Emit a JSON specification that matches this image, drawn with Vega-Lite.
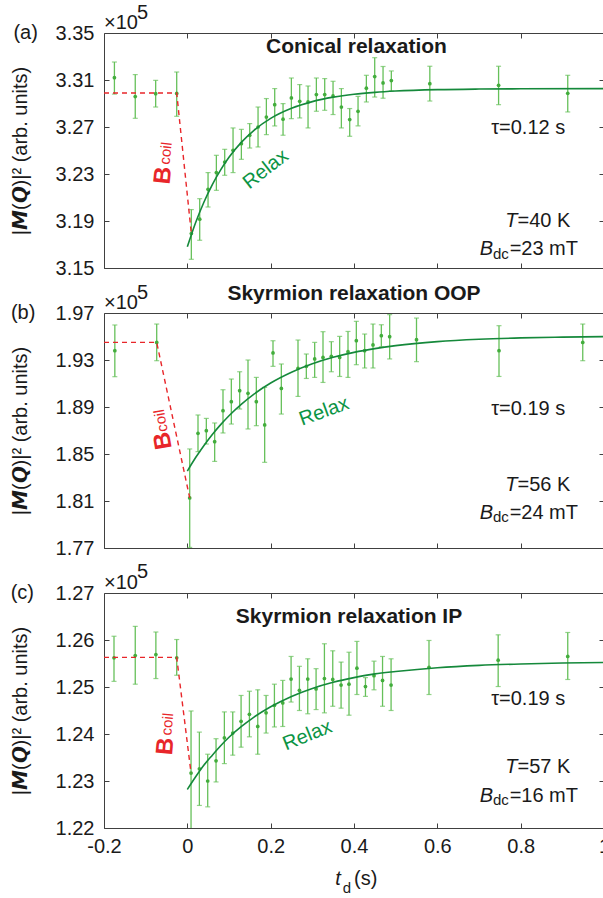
{
"$schema": "https://vega.github.io/schema/vega-lite/v6.json",
"padding": {"left": 9, "top": 2, "right": 0, "bottom": 0},
"bounds": "flush",
"spacing": 45,
"config": {"font": "Liberation Sans", "view": {"stroke": "#404040", "strokeWidth": 1}, "text": {"color": "#1a1a1a", "font": "Liberation Sans"}},
"datasets": {
"aPts": [
{"t":-0.175,"v":3.312,"lo":3.298,"hi":3.3253},{"t":-0.125,"v":3.2959,"lo":3.2774,"hi":3.3146},{"t":-0.076,"v":3.2984,"lo":3.287,"hi":3.3097},{"t":-0.0255,"v":3.2986,"lo":3.2791,"hi":3.3168},
{"t":0.0096,"v":3.1793,"lo":3.1574,"hi":3.1997},{"t":0.0297,"v":3.1915,"lo":3.1736,"hi":3.209},{"t":0.0497,"v":3.217,"lo":3.2019,"hi":3.2312},{"t":0.0697,"v":3.2312,"lo":3.2161,"hi":3.2459},
{"t":0.0897,"v":3.2402,"lo":3.2289,"hi":3.251},{"t":0.1097,"v":3.2502,"lo":3.2312,"hi":3.2692},{"t":0.1297,"v":3.2558,"lo":3.2425,"hi":3.268},{"t":0.1497,"v":3.2629,"lo":3.2521,"hi":3.2729},
{"t":0.1697,"v":3.27,"lo":3.253,"hi":3.287},{"t":0.1897,"v":3.2785,"lo":3.2635,"hi":3.2942},{"t":0.2097,"v":3.289,"lo":3.2709,"hi":3.3027},{"t":0.2297,"v":3.2766,"lo":3.263,"hi":3.2899},
{"t":0.2497,"v":3.2947,"lo":3.2771,"hi":3.3117},{"t":0.2697,"v":3.2919,"lo":3.2777,"hi":3.3061},{"t":0.2897,"v":3.2913,"lo":3.2692,"hi":3.3049},{"t":0.3097,"v":3.2976,"lo":3.2834,"hi":3.3117},
{"t":0.3297,"v":3.2976,"lo":3.2842,"hi":3.3112},{"t":0.3497,"v":3.2964,"lo":3.2806,"hi":3.3089},{"t":0.3697,"v":3.287,"lo":3.2692,"hi":3.3027},{"t":0.3897,"v":3.2763,"lo":3.2621,"hi":3.2857},
{"t":0.4097,"v":3.2834,"lo":3.271,"hi":3.296},{"t":0.4297,"v":3.303,"lo":3.2913,"hi":3.314},{"t":0.4497,"v":3.3129,"lo":3.2955,"hi":3.329},{"t":0.4697,"v":3.3075,"lo":3.2945,"hi":3.3215},
{"t":0.4896,"v":3.3095,"lo":3.3006,"hi":3.3177},{"t":0.582,"v":3.3069,"lo":3.2921,"hi":3.3217},{"t":0.747,"v":3.3055,"lo":3.289,"hi":3.3217},{"t":0.913,"v":3.2987,"lo":3.2828,"hi":3.314}],
"aFit": [
{"t":0,"v":3.168},{"t":0.02,"v":3.1887},{"t":0.04,"v":3.2062},{"t":0.06,"v":3.221},{"t":0.08,"v":3.2335},{"t":0.1,"v":3.2442},{"t":0.13,"v":3.2571},{"t":0.16,"v":3.2672},{"t":0.2,"v":3.2773},{"t":0.25,"v":3.2859},{"t":0.3,"v":3.2916},{"t":0.35,"v":3.2954},{"t":0.4,"v":3.2979},{"t":0.45,"v":3.2995},{"t":0.5,"v":3.3006},{"t":0.6,"v":3.3018},{"t":0.7,"v":3.3023},{"t":0.8,"v":3.3025},{"t":1.0,"v":3.3027}],
"aCoil": [{"t":-0.2,"v":3.299},{"t":-0.0255,"v":3.299},{"t":0.0096,"v":3.1793}],
"bPts": [
{"t":-0.174,"v":1.9379,"lo":1.9158,"hi":1.9598},{"t":-0.0735,"v":1.945,"lo":1.9294,"hi":1.9606},{"t":0.0057,"v":1.8126,"lo":1.7705,"hi":1.8543},{"t":0.0256,"v":1.8676,"lo":1.852,"hi":1.8832},
{"t":0.0456,"v":1.8698,"lo":1.8585,"hi":1.8803},{"t":0.0656,"v":1.8605,"lo":1.8437,"hi":1.8764},{"t":0.0856,"v":1.8869,"lo":1.8679,"hi":1.9047},{"t":0.1056,"v":1.8945,"lo":1.8755,"hi":1.9138},
{"t":0.1256,"v":1.9039,"lo":1.8883,"hi":1.92},{"t":0.1456,"v":1.9016,"lo":1.8713,"hi":1.93},{"t":0.1656,"v":1.8945,"lo":1.8741,"hi":1.9152},{"t":0.1856,"v":1.8747,"lo":1.8429,"hi":1.9067},
{"t":0.2056,"v":1.936,"lo":1.9246,"hi":1.9464},{"t":0.2256,"v":1.9058,"lo":1.884,"hi":1.9266},{"t":0.2656,"v":1.9229,"lo":1.899,"hi":1.947},{"t":0.2856,"v":1.9246,"lo":1.9143,"hi":1.9351},
{"t":0.3056,"v":1.9309,"lo":1.9152,"hi":1.945},{"t":0.3256,"v":1.9322,"lo":1.9109,"hi":1.9541},{"t":0.3456,"v":1.9331,"lo":1.92,"hi":1.9456},{"t":0.3656,"v":1.9322,"lo":1.916,"hi":1.9501},
{"t":0.3856,"v":1.9371,"lo":1.9152,"hi":1.9543},{"t":0.4056,"v":1.9464,"lo":1.926,"hi":1.9629},{"t":0.4256,"v":1.9379,"lo":1.9232,"hi":1.9521},{"t":0.4456,"v":1.9428,"lo":1.9232,"hi":1.9606},
{"t":0.4656,"v":1.9507,"lo":1.9413,"hi":1.96},{"t":0.4856,"v":1.9498,"lo":1.9309,"hi":1.9686},{"t":0.55,"v":1.9473,"lo":1.9286,"hi":1.9657},{"t":0.748,"v":1.9379,"lo":1.916,"hi":1.9592},{"t":0.949,"v":1.945,"lo":1.9294,"hi":1.9606}],
"bFit": [
{"t":0,"v":1.8355},{"t":0.02,"v":1.847},{"t":0.04,"v":1.8573},{"t":0.06,"v":1.8666},{"t":0.08,"v":1.875},{"t":0.1,"v":1.8826},{"t":0.13,"v":1.8925},{"t":0.16,"v":1.901},{"t":0.2,"v":1.9104},{"t":0.25,"v":1.9196},{"t":0.3,"v":1.9268},{"t":0.35,"v":1.9323},{"t":0.4,"v":1.9365},{"t":0.45,"v":1.9397},{"t":0.5,"v":1.9422},{"t":0.6,"v":1.9456},{"t":0.7,"v":1.9476},{"t":0.8,"v":1.9488},{"t":0.9,"v":1.9495},{"t":1.0,"v":1.9499}],
"bCoil": [{"t":-0.2,"v":1.945},{"t":-0.0735,"v":1.945},{"t":0.0057,"v":1.8126}],
"cPts": [
{"t":-0.176,"v":1.2562,"lo":1.2512,"hi":1.2608},{"t":-0.125,"v":1.2567,"lo":1.2506,"hi":1.2629},{"t":-0.0755,"v":1.2569,"lo":1.2518,"hi":1.2617},{"t":-0.0255,"v":1.2562,"lo":1.2525,"hi":1.2601},
{"t":0.0089,"v":1.2317,"lo":1.2185,"hi":1.2449},{"t":0.0289,"v":1.2326,"lo":1.2248,"hi":1.2404},{"t":0.0489,"v":1.23,"lo":1.2245,"hi":1.2357},{"t":0.0689,"v":1.2343,"lo":1.2298,"hi":1.239},
{"t":0.0889,"v":1.2392,"lo":1.2337,"hi":1.2447},{"t":0.109,"v":1.2402,"lo":1.2355,"hi":1.2447},{"t":0.129,"v":1.2427,"lo":1.2372,"hi":1.2482},{"t":0.149,"v":1.2442,"lo":1.2394,"hi":1.2491},
{"t":0.169,"v":1.2416,"lo":1.2357,"hi":1.2494},{"t":0.189,"v":1.2445,"lo":1.2402,"hi":1.2482},{"t":0.209,"v":1.2461,"lo":1.2415,"hi":1.2506},{"t":0.229,"v":1.2466,"lo":1.2416,"hi":1.2514},
{"t":0.249,"v":1.2517,"lo":1.2468,"hi":1.2565},{"t":0.269,"v":1.2493,"lo":1.245,"hi":1.2544},{"t":0.289,"v":1.2517,"lo":1.2443,"hi":1.256},{"t":0.309,"v":1.2496,"lo":1.2452,"hi":1.2539},
{"t":0.329,"v":1.2518,"lo":1.2445,"hi":1.2592},{"t":0.349,"v":1.2516,"lo":1.2459,"hi":1.2577},{"t":0.369,"v":1.2504,"lo":1.2455,"hi":1.2553},{"t":0.388,"v":1.2506,"lo":1.244,"hi":1.2574},
{"t":0.407,"v":1.254,"lo":1.2484,"hi":1.2597},{"t":0.4275,"v":1.2501,"lo":1.248,"hi":1.252},{"t":0.448,"v":1.2524,"lo":1.2494,"hi":1.2555},{"t":0.4685,"v":1.2514,"lo":1.2459,"hi":1.2565},
{"t":0.489,"v":1.2504,"lo":1.245,"hi":1.256},{"t":0.58,"v":1.2542,"lo":1.2484,"hi":1.2599},{"t":0.746,"v":1.2557,"lo":1.2501,"hi":1.2611},{"t":0.913,"v":1.2565,"lo":1.2516,"hi":1.2616}],
"cFit": [
{"t":0,"v":1.2282},{"t":0.02,"v":1.2309},{"t":0.04,"v":1.2334},{"t":0.06,"v":1.2355},{"t":0.08,"v":1.2375},{"t":0.1,"v":1.2393},{"t":0.13,"v":1.2416},{"t":0.16,"v":1.2436},{"t":0.2,"v":1.2458},{"t":0.25,"v":1.248},{"t":0.3,"v":1.2497},{"t":0.35,"v":1.251},{"t":0.4,"v":1.252},{"t":0.45,"v":1.2528},{"t":0.5,"v":1.2533},{"t":0.6,"v":1.2541},{"t":0.7,"v":1.2546},{"t":0.8,"v":1.2549},{"t":0.9,"v":1.2551},{"t":1.0,"v":1.2552}],
"cCoil": [{"t":-0.2,"v":1.2563},{"t":-0.0255,"v":1.2563},{"t":0.0089,"v":1.2317}]
},
"vconcat": [
{
"width": 500, "height": 235,
"resolve": {"axis": {"x": "independent", "y": "independent"}},
"layer": [
{"data": {"name": "aPts"}, "mark": {"type": "rule", "color": "#66c05a", "strokeWidth": 1.3, "clip": true},
 "encoding": {
  "x": {"field": "t", "type": "quantitative", "scale": {"domain": [-0.2, 1], "nice": false, "zero": false},
        "axis": {"orient": "bottom", "values": [-0.2, 0, 0.2, 0.4, 0.6, 0.8, 1], "labels": false, "title": null, "domain": false, "grid": false, "tickSize": -5, "tickColor": "#404040"}},
  "y": {"field": "lo", "type": "quantitative", "scale": {"domain": [3.15, 3.35], "nice": false, "zero": false},
        "axis": {"orient": "left", "values": [3.15, 3.19, 3.23, 3.27, 3.31, 3.35], "format": ".2f", "labelFontSize": 20, "labelPadding": 15, "labelColor": "#1a1a1a", "labelFlush": false, "labelOverlap": false, "tickSize": -5, "tickColor": "#404040", "domain": false, "grid": false,
                 "title": "|𝙈(𝙌)|² (arb. units)", "titleFontSize": 20, "titleFontWeight": "normal", "titleColor": "#1a1a1a", "titlePadding": 25}},
  "y2": {"field": "hi"}}},
{"data": {"values": [{}]}, "mark": {"type": "point", "opacity": 0},
 "encoding": {
  "x": {"datum": 0.4, "type": "quantitative", "scale": {"domain": [-0.2, 1], "nice": false, "zero": false},
        "axis": {"orient": "top", "values": [0, 0.2, 0.4, 0.6, 0.8], "labels": false, "title": null, "domain": false, "grid": false, "tickSize": -5, "tickColor": "#404040"}},
  "y": {"datum": 3.25, "type": "quantitative", "scale": {"domain": [3.15, 3.35], "nice": false, "zero": false},
        "axis": {"orient": "right", "values": [3.19, 3.23, 3.27, 3.31], "labels": false, "title": null, "domain": false, "grid": false, "tickSize": -5, "tickColor": "#404040"}}}},
{"data": {"name": "aPts"}, "mark": {"type": "tick", "orient": "horizontal", "size": 5, "thickness": 1.2, "color": "#66c05a", "clip": true},
 "encoding": {"x": {"field": "t", "type": "quantitative", "axis": null}, "y": {"field": "lo", "type": "quantitative", "axis": null}}},
{"data": {"name": "aPts"}, "mark": {"type": "tick", "orient": "horizontal", "size": 5, "thickness": 1.2, "color": "#66c05a", "clip": true},
 "encoding": {"x": {"field": "t", "type": "quantitative", "axis": null}, "y": {"field": "hi", "type": "quantitative", "axis": null}}},
{"data": {"name": "aPts"}, "mark": {"type": "point", "filled": true, "size": 14, "color": "#42ad3c", "opacity": 1},
 "encoding": {"x": {"field": "t", "type": "quantitative", "axis": null}, "y": {"field": "v", "type": "quantitative", "axis": null}}},
{"data": {"name": "aFit"}, "mark": {"type": "line", "color": "#15893b", "strokeWidth": 1.6, "interpolate": "monotone"},
 "encoding": {"x": {"field": "t", "type": "quantitative", "axis": null}, "y": {"field": "v", "type": "quantitative", "axis": null}}},
{"data": {"name": "aCoil"}, "mark": {"type": "line", "color": "#e8262a", "strokeWidth": 1.4, "strokeDash": [5, 4]},
 "encoding": {"x": {"field": "t", "type": "quantitative", "axis": null}, "y": {"field": "v", "type": "quantitative", "axis": null}}},
{"data": {"values": [{}]}, "mark": {"type": "text", "text": "(a)", "fontSize": 20, "align": "center", "baseline": "middle"},
 "encoding": {"x": {"datum": -0.388, "type": "quantitative", "axis": null}, "y": {"datum": 3.35, "type": "quantitative", "axis": null}}},
{"data": {"values": [{}]}, "mark": {"type": "text", "text": "×10", "fontSize": 20, "align": "left", "baseline": "alphabetic"},
 "encoding": {"x": {"datum": -0.2, "type": "quantitative", "axis": null}, "y": {"datum": 3.3537, "type": "quantitative", "axis": null}}},
{"data": {"values": [{}]}, "mark": {"type": "text", "text": "5", "fontSize": 20, "align": "left", "baseline": "alphabetic"},
 "encoding": {"x": {"datum": -0.1207, "type": "quantitative", "axis": null}, "y": {"datum": 3.3623, "type": "quantitative", "axis": null}}},
{"data": {"values": [{}]}, "mark": {"type": "text", "text": "Conical relaxation", "fontSize": 21, "fontWeight": "bold", "align": "center", "baseline": "middle"},
 "encoding": {"x": {"datum": 0.406, "type": "quantitative", "axis": null}, "y": {"datum": 3.3383, "type": "quantitative", "axis": null}}},
{"data": {"values": [{}]}, "mark": {"type": "text", "text": "τ=0.12 s", "fontSize": 20, "align": "center", "baseline": "middle"},
 "encoding": {"x": {"datum": 0.818, "type": "quantitative", "axis": null}, "y": {"datum": 3.2688, "type": "quantitative", "axis": null}}},
{"data": {"values": [{}]}, "mark": {"type": "text", "text": "T", "fontSize": 20, "fontStyle": "italic", "align": "right", "baseline": "alphabetic"},
 "encoding": {"x": {"datum": 0.7925, "type": "quantitative", "axis": null}, "y": {"datum": 3.1849, "type": "quantitative", "axis": null}}},
{"data": {"values": [{}]}, "mark": {"type": "text", "text": "=40 K", "fontSize": 20, "align": "left", "baseline": "alphabetic"},
 "encoding": {"x": {"datum": 0.7925, "type": "quantitative", "axis": null}, "y": {"datum": 3.1849, "type": "quantitative", "axis": null}}},
{"data": {"values": [{}]}, "mark": {"type": "text", "text": "B", "fontSize": 20, "fontStyle": "italic", "align": "right", "baseline": "alphabetic"},
 "encoding": {"x": {"datum": 0.7336, "type": "quantitative", "axis": null}, "y": {"datum": 3.1608, "type": "quantitative", "axis": null}}},
{"data": {"values": [{}]}, "mark": {"type": "text", "text": "dc", "fontSize": 15, "align": "left", "baseline": "alphabetic"},
 "encoding": {"x": {"datum": 0.7336, "type": "quantitative", "axis": null}, "y": {"datum": 3.158, "type": "quantitative", "axis": null}}},
{"data": {"values": [{}]}, "mark": {"type": "text", "text": "=23 mT", "fontSize": 20, "align": "left", "baseline": "alphabetic"},
 "encoding": {"x": {"datum": 0.7735, "type": "quantitative", "axis": null}, "y": {"datum": 3.1608, "type": "quantitative", "axis": null}}},
{"data": {"values": [{}]}, "mark": {"type": "text", "text": "B", "fontSize": 24, "fontWeight": "bold", "color": "#e8262a", "angle": -84, "align": "center", "baseline": "middle"},
 "encoding": {"x": {"datum": -0.0576, "type": "quantitative", "axis": null}, "y": {"datum": 3.2289, "type": "quantitative", "axis": null}}},
{"data": {"values": [{}]}, "mark": {"type": "text", "text": "coil", "fontSize": 15, "color": "#e8262a", "angle": -84, "align": "center", "baseline": "middle"},
 "encoding": {"x": {"datum": -0.052, "type": "quantitative", "axis": null}, "y": {"datum": 3.2476, "type": "quantitative", "axis": null}}},
{"data": {"values": [{}]}, "mark": {"type": "text", "text": "Relax", "fontSize": 20, "color": "#0b9444", "angle": -38, "align": "center", "baseline": "middle"},
 "encoding": {"x": {"datum": 0.188, "type": "quantitative", "axis": null}, "y": {"datum": 3.234, "type": "quantitative", "axis": null}}}
]
},
{
"width": 500, "height": 235,
"resolve": {"axis": {"x": "independent", "y": "independent"}},
"layer": [
{"data": {"name": "bPts"}, "mark": {"type": "rule", "color": "#66c05a", "strokeWidth": 1.3, "clip": true},
 "encoding": {
  "x": {"field": "t", "type": "quantitative", "scale": {"domain": [-0.2, 1], "nice": false, "zero": false},
        "axis": {"orient": "bottom", "values": [-0.2, 0, 0.2, 0.4, 0.6, 0.8, 1], "labels": false, "title": null, "domain": false, "grid": false, "tickSize": -5, "tickColor": "#404040"}},
  "y": {"field": "lo", "type": "quantitative", "scale": {"domain": [1.77, 1.97], "nice": false, "zero": false},
        "axis": {"orient": "left", "values": [1.77, 1.81, 1.85, 1.89, 1.93, 1.97], "format": ".2f", "labelFontSize": 20, "labelPadding": 15, "labelColor": "#1a1a1a", "labelFlush": false, "labelOverlap": false, "tickSize": -5, "tickColor": "#404040", "domain": false, "grid": false,
                 "title": "|𝙈(𝙌)|² (arb. units)", "titleFontSize": 20, "titleFontWeight": "normal", "titleColor": "#1a1a1a", "titlePadding": 25}},
  "y2": {"field": "hi"}}},
{"data": {"values": [{}]}, "mark": {"type": "point", "opacity": 0},
 "encoding": {
  "x": {"datum": 0.4, "type": "quantitative", "scale": {"domain": [-0.2, 1], "nice": false, "zero": false},
        "axis": {"orient": "top", "values": [0, 0.2, 0.4, 0.6, 0.8], "labels": false, "title": null, "domain": false, "grid": false, "tickSize": -5, "tickColor": "#404040"}},
  "y": {"datum": 1.87, "type": "quantitative", "scale": {"domain": [1.77, 1.97], "nice": false, "zero": false},
        "axis": {"orient": "right", "values": [1.81, 1.85, 1.89, 1.93], "labels": false, "title": null, "domain": false, "grid": false, "tickSize": -5, "tickColor": "#404040"}}}},
{"data": {"name": "bPts"}, "mark": {"type": "tick", "orient": "horizontal", "size": 5, "thickness": 1.2, "color": "#66c05a", "clip": true},
 "encoding": {"x": {"field": "t", "type": "quantitative", "axis": null}, "y": {"field": "lo", "type": "quantitative", "axis": null}}},
{"data": {"name": "bPts"}, "mark": {"type": "tick", "orient": "horizontal", "size": 5, "thickness": 1.2, "color": "#66c05a", "clip": true},
 "encoding": {"x": {"field": "t", "type": "quantitative", "axis": null}, "y": {"field": "hi", "type": "quantitative", "axis": null}}},
{"data": {"name": "bPts"}, "mark": {"type": "point", "filled": true, "size": 14, "color": "#42ad3c", "opacity": 1},
 "encoding": {"x": {"field": "t", "type": "quantitative", "axis": null}, "y": {"field": "v", "type": "quantitative", "axis": null}}},
{"data": {"name": "bFit"}, "mark": {"type": "line", "color": "#15893b", "strokeWidth": 1.6, "interpolate": "monotone"},
 "encoding": {"x": {"field": "t", "type": "quantitative", "axis": null}, "y": {"field": "v", "type": "quantitative", "axis": null}}},
{"data": {"name": "bCoil"}, "mark": {"type": "line", "color": "#e8262a", "strokeWidth": 1.4, "strokeDash": [5, 4]},
 "encoding": {"x": {"field": "t", "type": "quantitative", "axis": null}, "y": {"field": "v", "type": "quantitative", "axis": null}}},
{"data": {"values": [{}]}, "mark": {"type": "text", "text": "(b)", "fontSize": 20, "align": "center", "baseline": "middle"},
 "encoding": {"x": {"datum": -0.394, "type": "quantitative", "axis": null}, "y": {"datum": 1.97, "type": "quantitative", "axis": null}}},
{"data": {"values": [{}]}, "mark": {"type": "text", "text": "×10", "fontSize": 20, "align": "left", "baseline": "alphabetic"},
 "encoding": {"x": {"datum": -0.2, "type": "quantitative", "axis": null}, "y": {"datum": 1.9737, "type": "quantitative", "axis": null}}},
{"data": {"values": [{}]}, "mark": {"type": "text", "text": "5", "fontSize": 20, "align": "left", "baseline": "alphabetic"},
 "encoding": {"x": {"datum": -0.1207, "type": "quantitative", "axis": null}, "y": {"datum": 1.9819, "type": "quantitative", "axis": null}}},
{"data": {"values": [{}]}, "mark": {"type": "text", "text": "Skyrmion relaxation OOP", "fontSize": 21, "fontWeight": "bold", "align": "center", "baseline": "middle"},
 "encoding": {"x": {"datum": 0.4, "type": "quantitative", "axis": null}, "y": {"datum": 1.9862, "type": "quantitative", "axis": null}}},
{"data": {"values": [{}]}, "mark": {"type": "text", "text": "τ=0.19 s", "fontSize": 20, "align": "center", "baseline": "middle"},
 "encoding": {"x": {"datum": 0.818, "type": "quantitative", "axis": null}, "y": {"datum": 1.8883, "type": "quantitative", "axis": null}}},
{"data": {"values": [{}]}, "mark": {"type": "text", "text": "T", "fontSize": 20, "fontStyle": "italic", "align": "right", "baseline": "alphabetic"},
 "encoding": {"x": {"datum": 0.7925, "type": "quantitative", "axis": null}, "y": {"datum": 1.8188, "type": "quantitative", "axis": null}}},
{"data": {"values": [{}]}, "mark": {"type": "text", "text": "=56 K", "fontSize": 20, "align": "left", "baseline": "alphabetic"},
 "encoding": {"x": {"datum": 0.7925, "type": "quantitative", "axis": null}, "y": {"datum": 1.8188, "type": "quantitative", "axis": null}}},
{"data": {"values": [{}]}, "mark": {"type": "text", "text": "B", "fontSize": 20, "fontStyle": "italic", "align": "right", "baseline": "alphabetic"},
 "encoding": {"x": {"datum": 0.7336, "type": "quantitative", "axis": null}, "y": {"datum": 1.7947, "type": "quantitative", "axis": null}}},
{"data": {"values": [{}]}, "mark": {"type": "text", "text": "dc", "fontSize": 15, "align": "left", "baseline": "alphabetic"},
 "encoding": {"x": {"datum": 0.7336, "type": "quantitative", "axis": null}, "y": {"datum": 1.7919, "type": "quantitative", "axis": null}}},
{"data": {"values": [{}]}, "mark": {"type": "text", "text": "=24 mT", "fontSize": 20, "align": "left", "baseline": "alphabetic"},
 "encoding": {"x": {"datum": 0.7735, "type": "quantitative", "axis": null}, "y": {"datum": 1.7947, "type": "quantitative", "axis": null}}},
{"data": {"values": [{}]}, "mark": {"type": "text", "text": "B", "fontSize": 24, "fontWeight": "bold", "color": "#e8262a", "angle": -100, "align": "center", "baseline": "middle"},
 "encoding": {"x": {"datum": -0.0576, "type": "quantitative", "axis": null}, "y": {"datum": 1.8613, "type": "quantitative", "axis": null}}},
{"data": {"values": [{}]}, "mark": {"type": "text", "text": "coil", "fontSize": 15, "color": "#e8262a", "angle": -100, "align": "center", "baseline": "middle"},
 "encoding": {"x": {"datum": -0.0638, "type": "quantitative", "axis": null}, "y": {"datum": 1.8783, "type": "quantitative", "axis": null}}},
{"data": {"values": [{}]}, "mark": {"type": "text", "text": "Relax", "fontSize": 20, "color": "#0b9444", "angle": -20, "align": "center", "baseline": "middle"},
 "encoding": {"x": {"datum": 0.328, "type": "quantitative", "axis": null}, "y": {"datum": 1.8862, "type": "quantitative", "axis": null}}}
]
},
{
"width": 500, "height": 235,
"resolve": {"axis": {"x": "independent", "y": "independent"}},
"layer": [
{"data": {"name": "cPts"}, "mark": {"type": "rule", "color": "#66c05a", "strokeWidth": 1.3, "clip": true},
 "encoding": {
  "x": {"field": "t", "type": "quantitative", "scale": {"domain": [-0.2, 1], "nice": false, "zero": false},
        "axis": {"orient": "bottom", "values": [-0.2, 0, 0.2, 0.4, 0.6, 0.8, 1], "format": "~g", "labelExpr": "replace(datum.label, '\u2212', '-')", "labelFontSize": 20, "labelPadding": 13, "labelColor": "#1a1a1a", "labelFlush": false, "labelOverlap": false, "title": null, "domain": false, "grid": false, "tickSize": -5, "tickColor": "#404040"}},
  "y": {"field": "lo", "type": "quantitative", "scale": {"domain": [1.22, 1.27], "nice": false, "zero": false},
        "axis": {"orient": "left", "values": [1.22, 1.23, 1.24, 1.25, 1.26, 1.27], "format": ".2f", "labelFontSize": 20, "labelPadding": 15, "labelColor": "#1a1a1a", "labelFlush": false, "labelOverlap": false, "tickSize": -5, "tickColor": "#404040", "domain": false, "grid": false,
                 "title": "|𝙈(𝙌)|² (arb. units)", "titleFontSize": 20, "titleFontWeight": "normal", "titleColor": "#1a1a1a", "titlePadding": 25}},
  "y2": {"field": "hi"}}},
{"data": {"values": [{}]}, "mark": {"type": "point", "opacity": 0},
 "encoding": {
  "x": {"datum": 0.4, "type": "quantitative", "scale": {"domain": [-0.2, 1], "nice": false, "zero": false},
        "axis": {"orient": "top", "values": [0, 0.2, 0.4, 0.6, 0.8], "labels": false, "title": null, "domain": false, "grid": false, "tickSize": -5, "tickColor": "#404040"}},
  "y": {"datum": 1.245, "type": "quantitative", "scale": {"domain": [1.22, 1.27], "nice": false, "zero": false},
        "axis": {"orient": "right", "values": [1.23, 1.24, 1.25, 1.26], "labels": false, "title": null, "domain": false, "grid": false, "tickSize": -5, "tickColor": "#404040"}}}},
{"data": {"name": "cPts"}, "mark": {"type": "tick", "orient": "horizontal", "size": 5, "thickness": 1.2, "color": "#66c05a", "clip": true},
 "encoding": {"x": {"field": "t", "type": "quantitative", "axis": null}, "y": {"field": "lo", "type": "quantitative", "axis": null}}},
{"data": {"name": "cPts"}, "mark": {"type": "tick", "orient": "horizontal", "size": 5, "thickness": 1.2, "color": "#66c05a", "clip": true},
 "encoding": {"x": {"field": "t", "type": "quantitative", "axis": null}, "y": {"field": "hi", "type": "quantitative", "axis": null}}},
{"data": {"name": "cPts"}, "mark": {"type": "point", "filled": true, "size": 14, "color": "#42ad3c", "opacity": 1},
 "encoding": {"x": {"field": "t", "type": "quantitative", "axis": null}, "y": {"field": "v", "type": "quantitative", "axis": null}}},
{"data": {"name": "cFit"}, "mark": {"type": "line", "color": "#15893b", "strokeWidth": 1.6, "interpolate": "monotone"},
 "encoding": {"x": {"field": "t", "type": "quantitative", "axis": null}, "y": {"field": "v", "type": "quantitative", "axis": null}}},
{"data": {"name": "cCoil"}, "mark": {"type": "line", "color": "#e8262a", "strokeWidth": 1.4, "strokeDash": [5, 4]},
 "encoding": {"x": {"field": "t", "type": "quantitative", "axis": null}, "y": {"field": "v", "type": "quantitative", "axis": null}}},
{"data": {"values": [{}]}, "mark": {"type": "text", "text": "(c)", "fontSize": 20, "align": "center", "baseline": "middle"},
 "encoding": {"x": {"datum": -0.396, "type": "quantitative", "axis": null}, "y": {"datum": 1.27, "type": "quantitative", "axis": null}}},
{"data": {"values": [{}]}, "mark": {"type": "text", "text": "×10", "fontSize": 20, "align": "left", "baseline": "alphabetic"},
 "encoding": {"x": {"datum": -0.2, "type": "quantitative", "axis": null}, "y": {"datum": 1.2709, "type": "quantitative", "axis": null}}},
{"data": {"values": [{}]}, "mark": {"type": "text", "text": "5", "fontSize": 20, "align": "left", "baseline": "alphabetic"},
 "encoding": {"x": {"datum": -0.1207, "type": "quantitative", "axis": null}, "y": {"datum": 1.2731, "type": "quantitative", "axis": null}}},
{"data": {"values": [{}]}, "mark": {"type": "text", "text": "Skyrmion relaxation IP", "fontSize": 21, "fontWeight": "bold", "align": "center", "baseline": "middle"},
 "encoding": {"x": {"datum": 0.388, "type": "quantitative", "axis": null}, "y": {"datum": 1.2649, "type": "quantitative", "axis": null}}},
{"data": {"values": [{}]}, "mark": {"type": "text", "text": "τ=0.19 s", "fontSize": 20, "align": "center", "baseline": "middle"},
 "encoding": {"x": {"datum": 0.818, "type": "quantitative", "axis": null}, "y": {"datum": 1.2475, "type": "quantitative", "axis": null}}},
{"data": {"values": [{}]}, "mark": {"type": "text", "text": "T", "fontSize": 20, "fontStyle": "italic", "align": "right", "baseline": "alphabetic"},
 "encoding": {"x": {"datum": 0.7925, "type": "quantitative", "axis": null}, "y": {"datum": 1.2316, "type": "quantitative", "axis": null}}},
{"data": {"values": [{}]}, "mark": {"type": "text", "text": "=57 K", "fontSize": 20, "align": "left", "baseline": "alphabetic"},
 "encoding": {"x": {"datum": 0.7925, "type": "quantitative", "axis": null}, "y": {"datum": 1.2316, "type": "quantitative", "axis": null}}},
{"data": {"values": [{}]}, "mark": {"type": "text", "text": "B", "fontSize": 20, "fontStyle": "italic", "align": "right", "baseline": "alphabetic"},
 "encoding": {"x": {"datum": 0.7336, "type": "quantitative", "axis": null}, "y": {"datum": 1.2255, "type": "quantitative", "axis": null}}},
{"data": {"values": [{}]}, "mark": {"type": "text", "text": "dc", "fontSize": 15, "align": "left", "baseline": "alphabetic"},
 "encoding": {"x": {"datum": 0.7336, "type": "quantitative", "axis": null}, "y": {"datum": 1.2248, "type": "quantitative", "axis": null}}},
{"data": {"values": [{}]}, "mark": {"type": "text", "text": "=16 mT", "fontSize": 20, "align": "left", "baseline": "alphabetic"},
 "encoding": {"x": {"datum": 0.7735, "type": "quantitative", "axis": null}, "y": {"datum": 1.2255, "type": "quantitative", "axis": null}}},
{"data": {"values": [{}]}, "mark": {"type": "text", "text": "B", "fontSize": 24, "fontWeight": "bold", "color": "#e8262a", "angle": -85, "align": "center", "baseline": "middle"},
 "encoding": {"x": {"datum": -0.052, "type": "quantitative", "axis": null}, "y": {"datum": 1.2374, "type": "quantitative", "axis": null}}},
{"data": {"values": [{}]}, "mark": {"type": "text", "text": "coil", "fontSize": 15, "color": "#e8262a", "angle": -85, "align": "center", "baseline": "middle"},
 "encoding": {"x": {"datum": -0.048, "type": "quantitative", "axis": null}, "y": {"datum": 1.2421, "type": "quantitative", "axis": null}}},
{"data": {"values": [{}]}, "mark": {"type": "text", "text": "Relax", "fontSize": 20, "color": "#0b9444", "angle": -22, "align": "center", "baseline": "middle"},
 "encoding": {"x": {"datum": 0.288, "type": "quantitative", "axis": null}, "y": {"datum": 1.2397, "type": "quantitative", "axis": null}}},
{"data": {"values": [{}]}, "mark": {"type": "text", "text": "t", "fontSize": 20, "fontStyle": "italic", "align": "center", "baseline": "alphabetic"},
 "encoding": {"x": {"datum": 0.3617, "type": "quantitative", "axis": null}, "y": {"datum": 1.2078, "type": "quantitative", "axis": null}}},
{"data": {"values": [{}]}, "mark": {"type": "text", "text": "d", "fontSize": 15, "align": "center", "baseline": "alphabetic"},
 "encoding": {"x": {"datum": 0.383, "type": "quantitative", "axis": null}, "y": {"datum": 1.2061, "type": "quantitative", "axis": null}}},
{"data": {"values": [{}]}, "mark": {"type": "text", "text": "(s)", "fontSize": 20, "align": "left", "baseline": "alphabetic"},
 "encoding": {"x": {"datum": 0.4, "type": "quantitative", "axis": null}, "y": {"datum": 1.2078, "type": "quantitative", "axis": null}}}
]
}
]
}
